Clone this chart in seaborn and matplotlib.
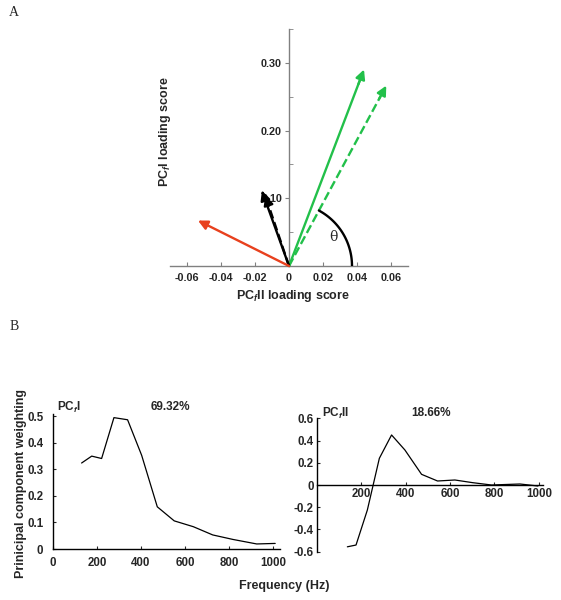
import numpy as np
import pandas as pd
import seaborn as sns
import matplotlib.pyplot as plt

# -------------------------------
# Data
# -------------------------------
# panel A: loading vectors (PCfII, PCfI)
vec_names = ["green", "green_dash", "black", "black_dash", "red"]
vec_x = [0.0447, 0.058, -0.0165, -0.0145, -0.055]
vec_y = [0.294, 0.270, 0.115, 0.108, 0.069]

# panel B: component weightings
freq_pc1 = [130, 176, 221, 277, 339, 403, 474, 551, 638, 726, 818, 926, 1010]
w_pc1 = [0.324, 0.350, 0.341, 0.495, 0.487, 0.353, 0.159, 0.106, 0.084, 0.053, 0.036, 0.019, 0.021]
freq_pc2 = [138, 177, 228, 282, 337, 397, 472, 544, 622, 702, 787, 915, 996]
w_pc2 = [-0.556, -0.540, -0.225, 0.240, 0.450, 0.315, 0.096, 0.036, 0.045, 0.021, 0.0, 0.009, -0.009]
var_pc1 = "69.32%"
var_pc2 = "18.66%"

xt_A = [-0.06, -0.04, -0.02, 0, 0.02, 0.04, 0.06]
yt_A = [0.10, 0.20, 0.30]

sns.set_style("ticks")
plt.rcParams["font.family"] = ["Liberation Sans", "DejaVu Sans"]
plt.rcParams["font.weight"] = "bold"
plt.rcParams["mathtext.fontset"] = "custom"
plt.rcParams["mathtext.rm"] = "Liberation Sans:bold"
plt.rcParams["mathtext.it"] = "Liberation Sans:italic:bold"
plt.rcParams["mathtext.bf"] = "Liberation Sans:bold"

W, H = 561, 600
fig = plt.figure(figsize=(W / 100, H / 100), dpi=100)

def px_axes(l, r, top, bot):
    return fig.add_axes([l / W, 1 - bot / H, (r - l) / W, (bot - top) / H])

GREEN = "#22c04a"
RED = "#e8411e"
GRAY = "#808080"
TICK_FS = 7.8
LAB_FS = 9

# -------------------------------
# Panel A
# -------------------------------
axA = px_axes(170, 408, 29, 266)
axA.set_xlim(-0.07, 0.07)
axA.set_ylim(0, 0.35)
for s in ["top", "right"]:
    axA.spines[s].set_visible(False)
axA.spines["left"].set_position(("data", 0))
axA.spines["bottom"].set_position(("data", 0))
for s in ["left", "bottom"]:
    axA.spines[s].set_color(GRAY)
    axA.spines[s].set_linewidth(1.0)
axA.set_xticks(xt_A)
axA.set_xticklabels(["0" if v == 0 else f"{v:.2f}" for v in xt_A])
axA.set_yticks(yt_A)
axA.set_yticklabels([f"{v:.2f}" for v in yt_A])
axA.set_yticks([0.05, 0.15, 0.25, 0.35], minor=True)
axA.tick_params(axis="x", direction="in", length=3, color=GRAY, labelsize=TICK_FS, pad=5)
axA.tick_params(axis="y", direction="out", length=3, color=GRAY, labelsize=TICK_FS, pad=2)
axA.tick_params(axis="y", which="minor", direction="in", length=3, color=GRAY)
for lab in axA.get_xticklabels() + axA.get_yticklabels():
    lab.set_fontweight("bold")

styles = {"green": (GREEN, "-"), "green_dash": (GREEN, "--"),
          "black": ("black", "-"), "black_dash": ("black", "--"), "red": (RED, "-")}
for name, x, y in zip(vec_names, vec_x, vec_y):
    col, ls = styles[name]
    axA.plot([0, x * 0.93], [0, y * 0.93], color=col, ls=ls, lw=1.7, clip_on=False, zorder=3)
    axA.annotate("", xy=(x, y), xytext=(x * 0.9, y * 0.9),
                 arrowprops=dict(arrowstyle="-|>", color=col, lw=1.7, mutation_scale=14),
                 annotation_clip=False, zorder=4)

# theta arc (circular in display space)
sx = 238 / 0.14
sy = 237 / 0.35
r_px = 63
ang = np.degrees(np.arctan2(vec_y[1] * sy, vec_x[1] * sx))
t = np.radians(np.linspace(0, ang, 60))
axA.plot(r_px / sx * np.cos(t), r_px / sy * np.sin(t), color="black", lw=1.7, zorder=3)
axA.text(0.026, 0.043, "θ", fontsize=10, family="DejaVu Serif", fontweight="normal",
         ha="center", va="center")

fig.text(293 / W, 1 - 296 / H, r"PC$_{f}$II loading score", fontsize=LAB_FS,
         fontweight="bold", ha="center", va="center")
fig.text(165 / W, 1 - 132 / H, r"PC$_{f}$I loading score", fontsize=LAB_FS,
         fontweight="bold", ha="center", va="center", rotation=90)

# -------------------------------
# Panel B
# -------------------------------
df1 = pd.DataFrame({"freq": freq_pc1, "w": w_pc1})
df2 = pd.DataFrame({"freq": freq_pc2, "w": w_pc2})

axB1 = px_axes(53, 279.6, 411, 549)
sns.lineplot(data=df1, x="freq", y="w", ax=axB1, color="black", lw=0.9)
axB1.set_xlim(0, 1030)
axB1.set_ylim(0, 0.52)
axB1.set_xticks([0, 200, 400, 600, 800, 1000])
axB1.set_yticks([0, 0.1, 0.2, 0.3, 0.4, 0.5])
axB1.set_yticklabels(["0", "0.1", "0.2", "0.3", "0.4", "0.5"])
axB1.spines["left"].set_bounds(0, 0.51)
axB1.text(18, 0.535, r"PC$_{f}$I", fontsize=8.5, fontweight="bold", ha="left", va="center")
axB1.text(532, 0.535, var_pc1, fontsize=8.5, fontweight="bold", ha="center", va="center")

axB2 = px_axes(316.7, 543.3, 418.3, 551.7)
sns.lineplot(data=df2, x="freq", y="w", ax=axB2, color="black", lw=0.9)
axB2.set_xlim(0, 1020)
axB2.set_ylim(-0.6, 0.6)
axB2.spines["bottom"].set_position(("data", 0))
axB2.set_xticks([200, 400, 600, 800, 1000])
axB2.set_yticks([-0.6, -0.4, -0.2, 0, 0.2, 0.4, 0.6])
axB2.set_yticklabels(["-0.6", "-0.4", "-0.2", "0", "0.2", "0.4", "0.6"])
axB2.text(24, 0.645, r"PC$_{f}$II", fontsize=8.5, fontweight="bold", ha="left", va="center")
axB2.text(514, 0.645, var_pc2, fontsize=8.5, fontweight="bold", ha="center", va="center")

for ax in [axB1, axB2]:
    sns.despine(ax=ax)
    ax.set_xlabel("")
    ax.set_ylabel("")
    for s in ["left", "bottom"]:
        ax.spines[s].set_linewidth(1.0)
        ax.spines[s].set_color("black")
    ax.tick_params(axis="both", direction="in", length=2, labelsize=8.3, pad=2)
    for lab in ax.get_xticklabels() + ax.get_yticklabels():
        lab.set_fontweight("bold")
axB1.tick_params(axis="y", pad=7)
axB1.tick_params(axis="x", pad=6)

fig.text(284 / W, 1 - 586 / H, "Frequency (Hz)", fontsize=LAB_FS, fontweight="bold",
         ha="center", va="center")
fig.text(21 / W, 1 - 484 / H, "Prinicipal component weighting", fontsize=LAB_FS,
         fontweight="bold", ha="center", va="center", rotation=90)

# panel letters
fig.text(14 / W, 1 - 12 / H, "A", family="Liberation Serif", fontweight="normal",
         fontsize=10, ha="center", va="center")
fig.text(14 / W, 1 - 327 / H, "B", family="Liberation Serif", fontweight="normal",
         fontsize=10, ha="center", va="center")

fig.savefig("out.png", dpi=100)
